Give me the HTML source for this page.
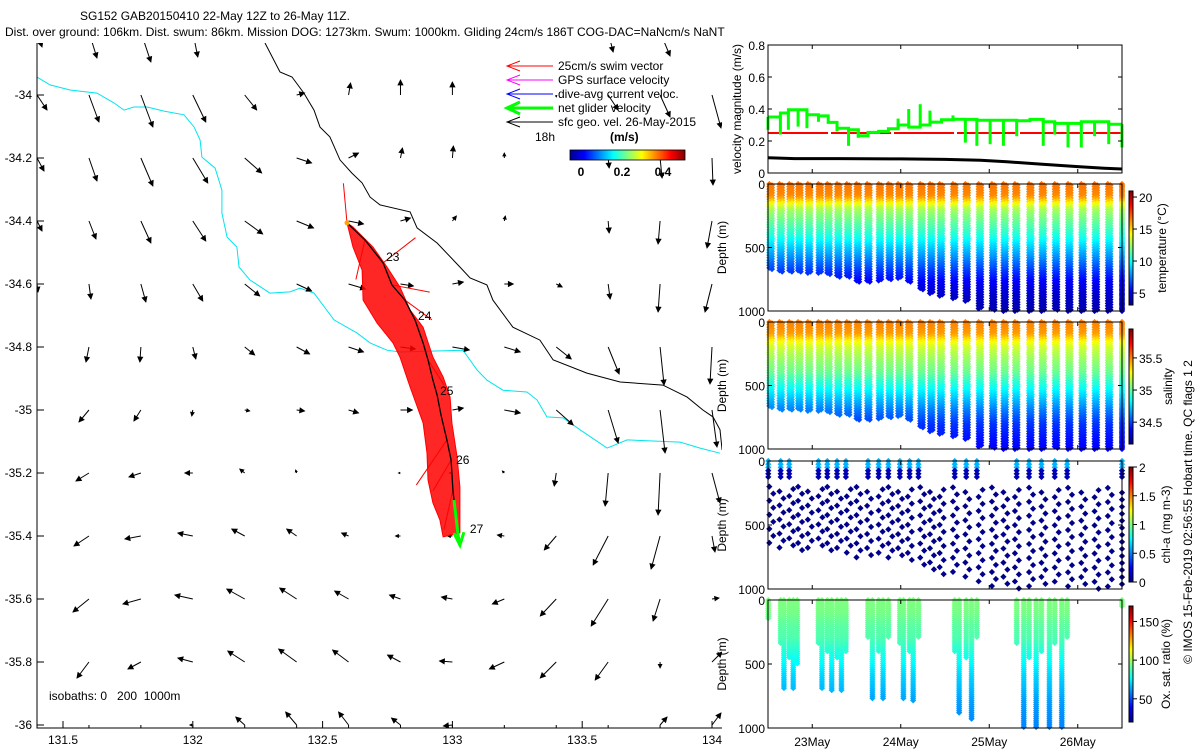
<!DOCTYPE html>
<html><head><meta charset="utf-8"><title>SG152 glider plot</title>
<style>
html,body{margin:0;padding:0;background:#fff;}
svg{display:block;font-family:"Liberation Sans",Arial,sans-serif;}
text{font-size:12px;fill:#000;}
</style></head>
<body>
<svg id="chart" width="1200" height="750" viewBox="0 0 1200 750" xmlns="http://www.w3.org/2000/svg">
<defs>
<clipPath id="mapclip"><rect x="37" y="43" width="685" height="685"/></clipPath>
<linearGradient id="jetH" x1="0" y1="0" x2="1" y2="0">
<stop offset="0" stop-color="#00008f"/><stop offset="0.125" stop-color="#0000ff"/><stop offset="0.375" stop-color="#00ffff"/><stop offset="0.625" stop-color="#ffff00"/><stop offset="0.875" stop-color="#ff0000"/><stop offset="1" stop-color="#800000"/>
</linearGradient>
<linearGradient id="jetV" x1="0" y1="1" x2="0" y2="0">
<stop offset="0" stop-color="#00008f"/><stop offset="0.125" stop-color="#0000ff"/><stop offset="0.375" stop-color="#00ffff"/><stop offset="0.625" stop-color="#ffff00"/><stop offset="0.875" stop-color="#ff0000"/><stop offset="1" stop-color="#800000"/>
</linearGradient>
</defs>
<text x="80" y="20">SG152 GAB20150410 22-May 12Z to 26-May 11Z.</text>
<text x="5" y="36">Dist. over ground: 106km. Dist. swum: 86km. Mission DOG: 1273km. Swum: 1000km. Gliding 24cm/s 186T COG-DAC=NaNcm/s NaNT</text>
<g id="map"></g>
<g id="legend">
<line x1="507" y1="66" x2="553" y2="66" stroke="#f00"/><polyline points="520,61 507,66 520,71" fill="none" stroke="#f00"/>
<text x="558" y="70">25cm/s swim vector</text>
<line x1="507" y1="80" x2="553" y2="80" stroke="#f0f"/><polyline points="520,75 507,80 520,85" fill="none" stroke="#f0f"/>
<text x="558" y="84">GPS surface velocity</text>
<line x1="507" y1="94" x2="553" y2="94" stroke="#00f"/><polyline points="520,89 507,94 520,99" fill="none" stroke="#00f"/>
<text x="558" y="98">dive-avg current veloc.</text>
<line x1="507" y1="108" x2="553" y2="108" stroke="#0f0" stroke-width="3"/><polyline points="520,102 507,108 520,114" fill="none" stroke="#0f0" stroke-width="3"/>
<text x="558" y="112">net glider velocity</text>
<line x1="507" y1="122" x2="553" y2="122" stroke="#000"/><polyline points="520,117 507,122 520,127" fill="none" stroke="#000"/>
<text x="558" y="126">sfc geo. vel. 26-May-2015</text>
<text x="535" y="141">18h</text>
<text x="610" y="141" font-weight="bold">(m/s)</text>
<rect x="570" y="150" width="115" height="10" fill="url(#jetH)" stroke="#000" stroke-width="0.8"/>
<text x="581" y="176" text-anchor="middle" font-weight="bold">0</text>
<text x="622" y="176" text-anchor="middle" font-weight="bold">0.2</text>
<text x="663" y="176" text-anchor="middle" font-weight="bold">0.4</text>
</g>
<text x="49" y="700">isobaths: 0&#160;&#160;&#160;200&#160;&#160;1000m</text>
<g id="right"></g>
<text x="0" y="0" transform="translate(1192,512) rotate(-90)" text-anchor="middle" font-size="13">© IMOS 15-Feb-2019 02:56:55 Hobart time. QC flags 1  2</text>
</svg>
<script>
// ---------- data ----------
const quiverLon0 = 131.4, quiverLat0 = -33.8, quiverStep = 0.2;
// eastward components (cm/s), rows north->south
const quiverU = [
[5,8,10,5,0,0,0,0,0,0,0,5,10,2],
[10,10,12,13,12,8,2,0,0,0,0,10,10,9],
[7,8,12,15,17,15,10,2,1,0,0,1,2,1],
[5,7,10,13,18,17,15,10,4,1,0,1,-2,-5],
[1,2,5,10,15,15,17,13,11,9,6,2,-2,-7],
[0,-3,-1,3,10,13,15,15,17,16,15,11,4,-2],
[0,-10,-7,-1,5,8,10,12,11,16,17,10,5,5],
[0,-13,-12,-8,-5,-1,0,-2,-3,-2,-2,-3,-2,8],
[0,-15,-16,-15,-13,-10,-7,-5,-5,-7,-12,-15,-9,3],
[0,-16,-18,-18,-18,-17,-14,-11,-11,-12,-16,-17,-7,7],
[0,-12,-13,-15,-17,-18,-16,-13,-13,-15,-16,-13,0,10],
[0,0,0,-3,-9,-11,-10,-9,-9,0,0,0,7,9]];
// southward components (cm/s)
const quiverS = [
[15,26,30,25,0,0,0,0,0,0,0,20,24,10],
[15,27,32,27,15,-2,-12,-15,-13,0,2,15,22,33],
[13,23,28,25,15,5,-5,-10,-12,-5,0,10,20,27],
[10,18,22,20,13,7,3,-3,-5,-5,0,12,23,27],
[8,15,18,17,12,7,5,2,-2,0,3,15,28,28],
[0,15,15,12,8,7,5,2,3,5,12,27,38,37],
[0,12,11,6,1,1,3,0,-2,3,15,33,43,37],
[0,8,4,0,-4,-3,0,0,0,-2,13,33,42,30],
[0,10,3,-3,-7,-7,-3,0,0,-1,14,29,33,16],
[0,13,5,-4,-10,-11,-8,-4,-2,5,17,27,22,-1],
[0,16,7,-4,-11,-13,-12,-7,-1,7,16,18,6,-10],
[0,0,0,0,-8,-13,-13,-7,1,0,0,0,-8,-12]];
const iso1000Lon=[132.278,132.336,132.382,132.428,132.467,132.490,132.528,132.567,132.613,132.652,132.683,132.721,132.837,132.864,132.941,133.029,133.068,133.133,133.156,133.233,133.337,133.388,133.518,133.646,133.811,133.904,133.965,134.004,134.031,134.039];
const iso1000Lat=[-33.835,-33.927,-33.943,-33.994,-34.048,-34.102,-34.133,-34.206,-34.248,-34.279,-34.324,-34.349,-34.371,-34.422,-34.470,-34.546,-34.581,-34.603,-34.651,-34.737,-34.778,-34.841,-34.883,-34.911,-34.921,-34.959,-35.000,-35.022,-35.063,-35.127];
const iso200Lon=[131.400,131.450,131.527,131.631,131.696,131.735,131.773,131.824,131.889,131.966,132.005,132.028,132.035,132.086,132.112,132.112,132.132,132.170,132.178,132.220,132.297,132.374,132.413,132.467,132.544,132.633,132.683,132.748,132.798,133.041,133.095,133.133,133.195,133.287,133.326,133.364,133.426,133.492,133.596,133.673,133.877,133.954,134.031];
const iso200Lat=[-33.943,-33.968,-33.984,-33.994,-34.025,-34.048,-34.038,-34.038,-34.051,-34.063,-34.102,-34.143,-34.197,-34.232,-34.302,-34.375,-34.451,-34.483,-34.546,-34.587,-34.629,-34.625,-34.613,-34.629,-34.714,-34.756,-34.787,-34.810,-34.816,-34.810,-34.873,-34.905,-34.937,-34.943,-34.968,-35.022,-35.025,-35.063,-35.121,-35.095,-35.102,-35.121,-35.137];
const trackLon=[132.594,132.663,132.733,132.767,132.817,132.856,132.887,132.906,132.925,132.941,132.956,132.979,132.995,133.002,133.006];
const trackLat=[-34.406,-34.460,-34.533,-34.603,-34.651,-34.714,-34.787,-34.841,-34.905,-34.952,-35.016,-35.095,-35.159,-35.254,-35.286];
const netLon=[133.006,133.022,133.029];
const netLat=[-35.286,-35.397,-35.429];
const swimBandLon=[132.594,132.617,132.652,132.656,132.710,132.771,132.798,132.837,132.887,132.902,132.906,132.925,132.952,132.964,133.029,133.029,133.018,132.998,132.991,132.964,132.925,132.887,132.837,132.798,132.748,132.694,132.617];
const swimBandLat=[-34.406,-34.483,-34.556,-34.651,-34.724,-34.787,-34.832,-34.927,-35.041,-35.137,-35.222,-35.295,-35.349,-35.403,-35.390,-35.244,-35.149,-35.041,-34.959,-34.895,-34.832,-34.737,-34.683,-34.610,-34.546,-34.483,-34.419];
const swimIdx=[0,1,2,3,4,7,11,12,13];
const swimU=[-2,-5,18,21,15,9,-17,-10,-5];
const swimV=[22,-22,14,-4,-11,-14,-25,-17,-22];
const dayLabelIdx=[2,5,9,12];
const dayLabels=['23','24','25','26'];
const dayLabelDx=[3,3,3,5], dayLabelDy=[-2,0,0,4];

// velocity panel
const netT=[22.50,22.64,22.73,22.84,22.94,23.07,23.18,23.28,23.41,23.52,23.63,23.75,23.86,23.97,24.09,24.22,24.33,24.46,24.59,24.73,24.86,25.01,25.16,25.31,25.46,25.61,25.74,25.89,26.04,26.19,26.35,26.50];
const netV=[0.35,0.375,0.395,0.395,0.364,0.357,0.316,0.28,0.27,0.233,0.254,0.26,0.276,0.30,0.287,0.30,0.318,0.333,0.336,0.335,0.33,0.33,0.33,0.326,0.335,0.32,0.31,0.31,0.32,0.32,0.305];
const dipT=[22.50,22.64,22.73,22.84,22.94,23.07,23.28,23.41,23.52,23.97,24.09,24.22,24.33,24.59,24.73,24.86,25.01,25.16,25.31,25.61,25.74,25.89,26.04,26.19,26.35,26.50];
const dipV=[0.27,0.24,0.27,0.29,0.28,0.32,0.26,0.17,0.22,0.34,0.40,0.43,0.39,0.36,0.19,0.17,0.18,0.17,0.23,0.17,0.24,0.16,0.16,0.23,0.18,0.16];
const swimSpeed=0.25;
const sfcT=[22.5,22.8,23.3,24.0,24.5,24.9,25.2,25.6,26.0,26.3,26.5];
const sfcV=[0.095,0.09,0.09,0.088,0.085,0.08,0.07,0.055,0.04,0.03,0.025];

// dives
const diveT=[22.515,22.63,22.74,22.84,22.95,23.07,23.17,23.28,23.39,23.50,23.62,23.75,23.86,23.97,24.08,24.22,24.33,24.44,24.59,24.73,24.88,25.03,25.16,25.29,25.45,25.59,25.74,25.89,26.04,26.19,26.34,26.50];
const diveMax=[677,690,698,698,703,703,717,730,735,774,777,761,756,743,777,835,861,887,908,927,987,992,1000,1000,1000,1000,992,1000,1000,1000,1000,1000];
const profDepth=[0,100,150,200,300,400,500,600,700,800,900,1000];
const profTemp=[16.7,16.3,14.5,12.8,11.6,10.5,9.0,7.6,6.2,5.0,4.3,4.0];
const profSal=[35.5,35.45,35.3,35.2,35.1,35.02,34.88,34.74,34.6,34.48,34.42,34.38];
const profOxy=[95,94,92,90,88,82,76,70,66,62,60,58];
const oxyT=[22.503,22.643,22.68,22.74,22.785,22.83,23.07,23.11,23.17,23.22,23.28,23.33,23.38,23.63,23.68,23.75,23.80,23.86,23.99,24.03,24.10,24.14,24.20,24.61,24.66,24.74,24.80,24.86,25.31,25.39,25.45,25.53,25.59,25.68,25.74,25.82,25.88,26.50];
const oxyMax=[150,350,690,450,690,500,350,700,400,710,450,715,400,300,770,400,770,300,350,775,400,790,300,400,880,450,930,300,350,1000,450,1000,400,1000,350,1000,300,50];
const chlSurf=0.6, chlDeep=0.02;

// ---------- helpers ----------
const NS='http://www.w3.org/2000/svg';
function mk(tag,attrs,parent){const e=document.createElementNS(NS,tag);for(const k in attrs)e.setAttribute(k,attrs[k]);parent.appendChild(e);return e;}
function clamp(v){return Math.max(0,Math.min(1,v));}
function jet(t){t=clamp(t);const r=clamp(1.5-Math.abs(4*t-3)),g=clamp(1.5-Math.abs(4*t-2)),b=clamp(1.5-Math.abs(4*t-1));return 'rgb('+Math.round(r*255)+','+Math.round(g*255)+','+Math.round(b*255)+')';}
function interp(xs,ys,x){if(x<=xs[0])return ys[0];for(let i=1;i<xs.length;i++){if(x<=xs[i]){const f=(x-xs[i-1])/(xs[i]-xs[i-1]);return ys[i-1]+f*(ys[i]-ys[i-1]);}}return ys[ys.length-1];}

// ---------- map ----------
const map=document.getElementById('map');
const lonX=lon=>63+(lon-131.5)*259.6;
const latY=lat=>95+(-34-lat)*315;
const mg=mk('g',{'clip-path':'url(#mapclip)'},map);



function poly(lons,lats){return lons.map((l,i)=>lonX(l).toFixed(1)+','+latY(lats[i]).toFixed(1)).join(' ');}
const i1=mk('polyline',{points:poly(iso1000Lon,iso1000Lat),fill:'none',stroke:'#000','stroke-width':1},mg);


const i2=mk('polyline',{points:poly(iso200Lon,iso200Lat),fill:'none',stroke:'#00e5ee','stroke-width':1},mg);



function arrow(parent,x0,y0,dx,dy,color,w,head){
  const L=Math.hypot(dx,dy);
  if(L<0.5)return null;
  const g=mk('g',{},parent);
  mk('line',{x1:x0,y1:y0,x2:x0+dx,y2:y0+dy,stroke:color,'stroke-width':w},g);
  const ux=dx/L,uy=dy/L,h=Math.min(head,L*0.6),hw=h*0.5;
  const tx=x0+dx,ty=y0+dy,bx=tx-ux*h,by=ty-uy*h;
  if(h>0)mk('polygon',{points:tx+','+ty+' '+(bx-uy*hw)+','+(by+ux*hw)+' '+(bx+uy*hw)+','+(by-ux*hw),fill:color,stroke:color,'stroke-width':0.8},g);
  return g;
}
for(let r=0;r<quiverU.length;r++){for(let c=0;c<quiverU[r].length;c++){
  const x=lonX(quiverLon0+c*quiverStep),y=latY(quiverLat0-r*quiverStep);
  const a=arrow(mg,x,y,quiverU[r][c],quiverS[r][c],'#000',1,5);
  if(a){
    
    
  }
}}
const band=mk('polygon',{points:poly(swimBandLon,swimBandLat),fill:'#ff0000','fill-opacity':0.85,stroke:'#f00','stroke-width':1},mg);


for(let i=0;i<swimIdx.length;i++){
  const k=swimIdx[i];
  const s=arrow(mg,lonX(trackLon[k]),latY(trackLat[k]),swimU[i]*1.8,-swimV[i]*1.8,'#f00',1,0);
  
  
}
const tr=mk('polyline',{points:poly(trackLon,trackLat),fill:'none',stroke:'#000','stroke-width':1.3},mg);


const st=mk('circle',{cx:lonX(trackLon[0]),cy:latY(trackLat[0]),r:2.5,fill:'#ffa500'},mg);


const nv=mk('polyline',{points:poly(netLon,netLat),fill:'none',stroke:'#0f0','stroke-width':3},mg);


const nvh=mk('polyline',{points:(lonX(netLon[2])-6)+','+(latY(netLat[2])-12)+' '+lonX(netLon[2])+','+latY(netLat[2])+' '+(lonX(netLon[2])+4)+','+(latY(netLat[2])-13),fill:'none',stroke:'#0f0','stroke-width':3},mg);


for(let i=0;i<dayLabelIdx.length;i++){
  const k=dayLabelIdx[i];
  const t=mk('text',{x:lonX(trackLon[k])+dayLabelDx[i],y:latY(trackLat[k])+dayLabelDy[i]},mg);
  t.textContent=dayLabels[i];
  
  
}
const lastLbl=mk('text',{x:lonX(netLon[2])+10,y:latY(netLat[2])-12},mg);
lastLbl.textContent='27';



// map axes
const ax=mk('path',{d:'M37,43 V728 H722',fill:'none',stroke:'#000'},map);


const lonTicks=[131.5,132,132.5,133,133.5,134];
for(let k=0;k<=13;k++){
  const lon=131.4+k*0.2,x=lonX(lon);
  const tk=mk('line',{x1:x,y1:728,x2:x,y2:725,stroke:'#000'},map);
  
  
}
lonTicks.forEach(l=>{
  const x=lonX(l);
  const tk=mk('line',{x1:x,y1:728,x2:x,y2:721,stroke:'#000'},map);
  
  
  const t=mk('text',{x:x,y:744,'text-anchor':'middle'},map);
  t.textContent=String(l);
  
  
});
for(let k=0;k<=10;k++){
  const lat=-34-k*0.2,y=latY(lat);
  const tk=mk('line',{x1:37,y1:y,x2:44,y2:y,stroke:'#000'},map);
  
  
  const t=mk('text',{x:32,y:y+4,'text-anchor':'end'},map);
  t.textContent=(Math.round(lat*10)/10).toString();
  
  
}

// ---------- right panels ----------
const R=document.getElementById('right');
const PX0=768,PX1=1122;
const dayX=d=>PX0+(d-22.5)*88.5;
const days=[23,24,25,26];
function panel(name,top,bottom,ymin,ymax,yticks,ylabel,showX){
  const g=mk('g',{},R);
  
  
  const y=v=>bottom-(v-ymin)/(ymax-ymin)*(bottom-top);
  return {g,y,top,bottom,finish(){
    const b=mk('rect',{x:PX0,y:top,width:PX1-PX0,height:bottom-top,fill:'none',stroke:'#000'},g);
    
    
    yticks.forEach(v=>{
      const yy=y(v);
      const t1=mk('path',{d:'M'+PX0+','+yy+'h4M'+PX1+','+yy+'h-4',stroke:'#000'},g);
      
      
      const t=mk('text',{x:PX0-3,y:yy+5,'text-anchor':'end','font-size':'13'},g);
      t.textContent=String(v);
      
      
    });
    days.forEach((d,i)=>{
      const xx=dayX(d);
      const t2=mk('path',{d:'M'+xx+','+bottom+'v-4M'+xx+','+top+'v4',stroke:'#000'},g);
      
      
      if(showX){
        const t=mk('text',{x:xx,y:bottom+18,'text-anchor':'middle','font-size':'13'},g);
        t.textContent=d+'May';
        
        
      }
    });
    const lab=mk('text',{x:0,y:0,transform:'translate('+(name==='velocity-panel'?741:726)+','+((top+bottom)/2)+') rotate(-90)','text-anchor':'middle','font-size':'13'},g);
    lab.textContent=ylabel;
    
    
  }};
}
function colorbar(g,top,bottom,vmin,vmax,ticks,label,labX){
  const cb=mk('rect',{x:1129,y:top,width:4,height:bottom-top,fill:'url(#jetV)',stroke:'#000','stroke-width':1},g);
  
  
  ticks.forEach(v=>{
    const yy=bottom-(v-vmin)/(vmax-vmin)*(bottom-top);
    const tk=mk('line',{x1:1133,y1:yy,x2:1137,y2:yy,stroke:'#000'},g);
    
    
    const t=mk('text',{x:1139,y:yy+5,'font-size':'13'},g);
    t.textContent=String(v);
    
    
  });
  const l=mk('text',{x:0,y:0,transform:'translate('+labX+','+((top+bottom)/2)+') rotate(-90)','text-anchor':'middle','font-size':'13'},g);
  l.textContent=label;
  
  
}
function dot(g,x,y,color){
  const r=mk('rect',{x:x-2.2,y:y-2.2,width:4.4,height:4.4,fill:color,transform:'rotate(45 '+x+' '+y+')'},g);
  
  
}

// velocity panel
const vp=panel('velocity-panel',45,173,0,0.8,[0,0.2,0.4,0.6,0.8],'velocity magnitude (m/s)',false);
const sw=mk('line',{x1:PX0,y1:vp.y(swimSpeed),x2:PX1,y2:vp.y(swimSpeed),stroke:'#f00','stroke-width':2,'stroke-dasharray':'60 3'},vp.g);


let sp='';
for(let i=0;i<sfcT.length;i++)sp+=(i?' ':'')+dayX(sfcT[i]).toFixed(1)+','+vp.y(sfcV[i]).toFixed(1);
const sf=mk('polyline',{points:sp,fill:'none',stroke:'#000','stroke-width':3},vp.g);


let np='';
for(let i=0;i<netV.length;i++){np+=' '+dayX(netT[i]).toFixed(1)+','+vp.y(netV[i]).toFixed(1)+' '+dayX(netT[i+1]).toFixed(1)+','+vp.y(netV[i]).toFixed(1);}
const nl=mk('polyline',{points:np.trim(),fill:'none',stroke:'#0f0','stroke-width':3},vp.g);


for(let i=0;i<dipT.length;i++){
  const base=netV[Math.max(0,netT.indexOf(dipT[i])-1)]||netV[0];
  const d=mk('line',{x1:dayX(dipT[i]),y1:vp.y(base),x2:dayX(dipT[i]),y2:vp.y(dipV[i]),stroke:'#0f0','stroke-width':3},vp.g);
  
  
}
vp.finish();

// temperature & salinity
const cbTop={'temperature-panel':191,'salinity-panel':329};
const cbBot={'temperature-panel':305,'salinity-panel':444};
function profilePanel(name,top,bottom,prof,vmin,vmax,cbTicks,cbLabel,cbLabX,ylab){
  const p=panel(name,top,bottom,1000,0,[0,500,1000],ylab,false);
  const pts=mk('g',{},p.g);
  
  
  for(let i=0;i<diveT.length;i++){
    for(const off of [0,0.03]){
      const tt=Math.min(26.5,diveT[i]+off);
      for(let d=(off?10:0);d<=diveMax[i];d+=20){
        dot(pts,dayX(tt),p.y(d),jet((interp(profDepth,prof,d)-vmin)/(vmax-vmin)));
      }
    }
  }
  p.finish();
  colorbar(p.g,cbTop[name],cbBot[name],vmin,vmax,cbTicks,cbLabel,cbLabX);
  return p;
}
profilePanel('temperature-panel',184,311,profTemp,3.13,20.94,[5,10,15,20],'temperature (°C)',1166,'Depth (m)');
profilePanel('salinity-panel',322,449,profSal,34.16,35.95,[34.5,35,35.5],'salinity',1172,'Depth (m)');

// chlorophyll
const cp=panel('chl-panel',461,589,1000,0,[0,500,1000],'Depth (m)',false);
const cg=mk('g',{},cp.g);


for(let i=0;i<diveT.length;i++){
  for(const off of [0,0.045]){
    const tt=Math.min(26.5,diveT[i]+off);
    for(let d=200+((i*37+(off?55:0))%110);d<=diveMax[i];d+=110){dot(cg,dayX(tt),cp.y(d),jet(chlDeep/2));}
  }
}
for(let i=0;i<oxyT.length;i++){
  if(oxyMax[i]<500){for(let d=0;d<=130;d+=25){dot(cg,dayX(oxyT[i]),cp.y(d),jet((d<70?chlSurf:0.1)/2));}}
}
cp.finish();
colorbar(cp.g,467,582,0,2,[0,0.5,1,1.5,2],'chl-a (mg m-3)',1170);

// oxygen
const op=panel('oxygen-panel',600,728,1000,0,[0,500,1000],'Depth (m)',true);
const og=mk('g',{},op.g);


for(let i=0;i<oxyT.length;i++){
  for(let d=0;d<=oxyMax[i];d+=16){dot(og,dayX(oxyT[i]),op.y(d),jet((interp(profDepth,profOxy,d)-20)/150));}
}
op.finish();
colorbar(op.g,606,722,20,170,[50,100,150],'Ox. sat. ratio (%)',1170);
</script>
</body></html>
